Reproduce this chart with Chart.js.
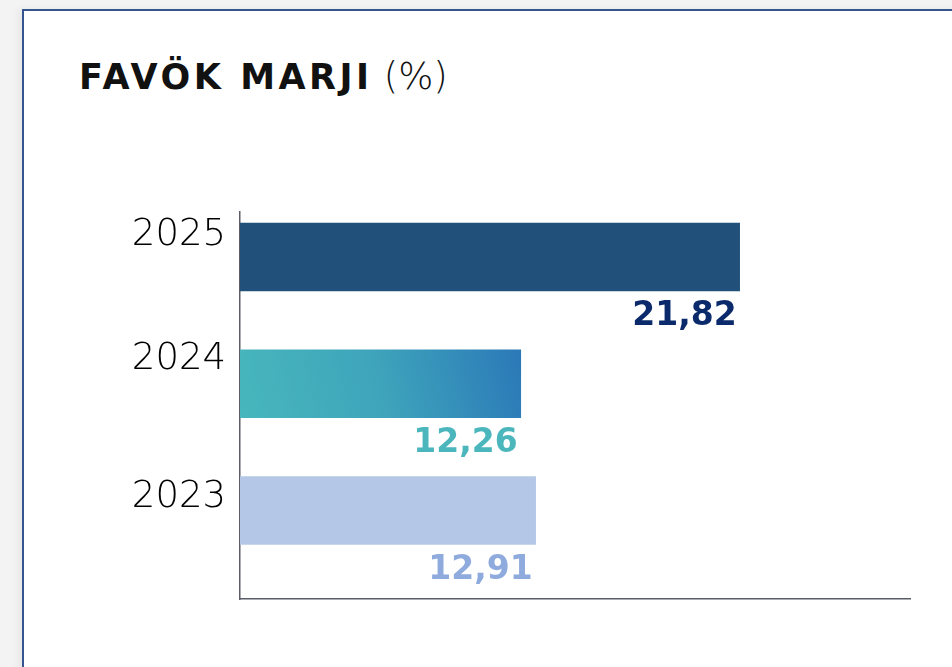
<!DOCTYPE html>
<html>
<head>
<meta charset="utf-8">
<script src="https://cdn.jsdelivr.net/npm/chart.js@4.4.1/dist/chart.umd.min.js"></script>
<style>
  html, body { margin: 0; padding: 0; background: #f3f3f3; overflow: hidden; }
  .card {
    position: absolute; left: 22px; top: 9px; width: 1000px; height: 700px;
    background: #fff; border-left: 2px solid #34558f; border-top: 2px solid #34558f;
    box-shadow: -4px 0 8px rgba(0,0,0,0.05);
  }
  .title {
    position: absolute; left: 79px; top: 58px; font-family: 'DejaVu Sans', sans-serif;
    font-size: 35px; line-height: 1; color: #111; white-space: nowrap;
  }
  .title b { font-weight: bold; letter-spacing: 3.5px; }
  .title span { font-weight: 300; font-size: 37px; }
  canvas { position: absolute; left: 0; top: 0; }
</style>
</head>
<body>
<div class="card"></div>
<div class="title"><b>FAVÖK MARJI</b> <span>(%)</span></div>
<canvas id="marjiChart" width="952" height="667"></canvas>
<script>
// data
const years = ['2025', '2024', '2023'];
const margins = [21.82, 12.26, 12.91];
const labelColors = ['#0b2a6b', '#4bb6bc', '#8fabdd'];

// bar colours, 2024 gets a teal -> blue gradient
const flatColors = ['#21507a', null, '#b4c7e7'];

const points = years.map((y, i) => ({ y: i, x: margins[i] }));

function barColor(context) {
  const i = context.dataIndex;
  if (flatColors[i]) return flatColors[i];
  const chart = context.chart;
  const area = chart.chartArea;
  if (!area) return '#3a9fbb';
  const xs = chart.scales.x;
  const ys = chart.scales.y;
  const x1 = xs.getPixelForValue(margins[i]);
  const yc = ys.getPixelForValue(i);
  const g = chart.ctx.createLinearGradient(area.left, yc + 34, x1, yc - 34);
  g.addColorStop(0, '#48b7bc');
  g.addColorStop(0.5, '#3ea4bb');
  g.addColorStop(1, '#2b79b8');
  return g;
}

// value text under the end of each bar
const valueLabels = {
  id: 'valueLabels',
  afterDatasetsDraw(chart) {
    const ctx = chart.ctx;
    const meta = chart.getDatasetMeta(0);
    ctx.save();
    ctx.font = 'bold 33px "DejaVu Sans"';
    ctx.textAlign = 'right';
    ctx.textBaseline = 'alphabetic';
    meta.data.forEach((bar, i) => {
      ctx.fillStyle = labelColors[i];
      const txt = margins[i].toFixed(2).replace('.', ',');
      ctx.fillText(txt, bar.x - 3, bar.y + bar.height / 2 + 34);
    });
    ctx.restore();
  }
};

new Chart(document.getElementById('marjiChart'), {
  type: 'bar',
  data: {
    datasets: [{
      data: points,
      backgroundColor: barColor,
      barThickness: 68,
      borderWidth: 0
    }]
  },
  options: {
    indexAxis: 'y',
    responsive: false,
    animation: false,
    layout: { padding: { top: 212, right: 42, bottom: 68, left: 0 } },
    plugins: { legend: { display: false }, tooltip: { enabled: false } },
    scales: {
      x: {
        type: 'linear',
        min: 0,
        max: 29.26,
        grid: { display: false },
        ticks: { display: false },
        border: { color: '#5a5d66', width: 1.5 },
        afterFit(s) { s.height = 0; }
      },
      y: {
        type: 'linear',
        reverse: true,
        offset: false,
        min: -0.355,
        max: 2.698,
        grid: { display: false, drawTicks: false },
        border: { color: '#5a5d66', width: 1.5 },
        afterFit(s) { s.width = 240; },
        // the year labels sit a bit above the bar centres
        afterBuildTicks(s) { s.ticks = [-0.17, 0.81, 1.9].map(v => ({ value: v })); },
        ticks: {
          autoSkip: false,
          padding: 14,
          color: '#000',
          font: { family: 'DejaVu Sans', size: 37, weight: '300' },
          callback: (v, i) => years[i]
        }
      }
    }
  },
  plugins: [valueLabels]
});
</script>
</body>
</html>
